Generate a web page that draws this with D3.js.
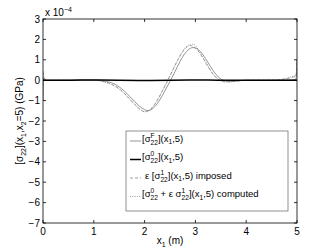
<!DOCTYPE html>
<html>
<head>
<meta charset="utf-8">
<script src="https://cdn.jsdelivr.net/npm/d3@7"></script>
<style>
body { margin: 0; background: #fff; }
text { font-family: "Liberation Sans", Arial, sans-serif; fill: #000; white-space: pre; }
</style>
</head>
<body>
<div id="chart"></div>
<script>
/* data (values in units of 1e-4 GPa) */
var xTicks = [0, 1, 2, 3, 4, 5],
    yTicks = [-7, -6, -5, -4, -3, -2, -1, 0, 1, 2, 3];

// sigma^F_22 (thin grey solid)
var fX = [0, 0.015, 0.04, 0.1, 0.5, 1.0, 1.2, 1.4, 1.5, 1.6, 1.7, 1.8, 1.9, 2.0, 2.05, 2.1, 2.2, 2.3, 2.4, 2.5, 2.6, 2.7, 2.8, 2.9, 2.95, 3.0, 3.1, 3.2, 3.3, 3.4, 3.5, 3.6, 3.7, 3.8, 4.0, 4.5, 4.97, 4.99, 5.0],
    fY = [-1.0, 0.1, 0.02, 0, 0, 0, -0.04, -0.18, -0.33, -0.53, -0.78, -1.03, -1.28, -1.44, -1.49, -1.47, -1.3, -0.96, -0.52, -0.06, 0.43, 0.93, 1.33, 1.56, 1.6, 1.58, 1.4, 1.06, 0.66, 0.3, 0.06, -0.04, -0.06, -0.04, 0, 0, 0.03, 0.3, 1.0];
// sigma^0_22 (thick black)
var zX = [0, 0.5, 1.0, 1.5, 2.0, 2.5, 3.0, 3.5, 4.0, 4.5, 5.0],
    zY = [0, 0, 0.01, 0, -0.01, 0, 0.01, 0, 0, 0, 0];
// eps sigma^1_22 imposed (dashed)
var iX = [0, 0.02, 0.05, 0.1, 0.5, 1.0, 1.2, 1.35, 1.5, 1.6, 1.7, 1.8, 1.9, 1.95, 2.0, 2.05, 2.15, 2.25, 2.35, 2.45, 2.55, 2.65, 2.75, 2.85, 2.9, 2.95, 3.05, 3.15, 3.25, 3.35, 3.45, 3.55, 3.65, 3.8, 4.0, 4.5, 4.98, 5.0],
    iY = [0.4, 0.1, 0.03, 0, 0, 0, -0.07, -0.2, -0.42, -0.64, -0.9, -1.17, -1.4, -1.5, -1.54, -1.52, -1.34, -0.98, -0.52, -0.03, 0.48, 0.98, 1.4, 1.65, 1.7, 1.66, 1.44, 1.08, 0.66, 0.28, 0.04, -0.07, -0.08, -0.05, 0, 0, 0.2, 1.0];
// sigma^0 + eps sigma^1 computed (dotted)
var cX = [0, 0.02, 0.05, 0.1, 0.5, 1.0, 1.2, 1.35, 1.5, 1.6, 1.7, 1.8, 1.9, 1.95, 2.0, 2.05, 2.15, 2.25, 2.35, 2.45, 2.55, 2.65, 2.75, 2.8, 2.85, 2.88, 2.92, 2.95, 3.0, 3.05, 3.15, 3.25, 3.35, 3.45, 3.55, 3.65, 3.8, 4.0, 4.5, 4.98, 5.0],
    cY = [0.45, 0.12, 0.03, 0, 0, 0, -0.08, -0.22, -0.44, -0.66, -0.92, -1.18, -1.41, -1.5, -1.55, -1.53, -1.35, -0.99, -0.53, -0.04, 0.47, 0.97, 1.42, 1.6, 1.7, 1.74, 1.72, 1.76, 1.7, 1.52, 1.12, 0.69, 0.3, 0.05, -0.07, -0.09, -0.05, 0, 0, 0.25, 1.0];

/* layout */
var W = 329, H = 251,
    plot = { left: 43, right: 297, top: 19, bottom: 223 };

var svg = d3.select("#chart").append("svg")
    .attr("width", W)
    .attr("height", H);

var x = d3.scaleLinear().domain([0, 5]).range([plot.left, plot.right]),
    y = d3.scaleLinear().domain([-7, 3]).range([plot.bottom, plot.top]);

// rich text helper: parts = [[text, kind]], kind in n / sub / sup / ss (sup+sub stacked)
function rich(g, x0, y0, parts, size) {
    var cx = x0;
    parts.forEach(function (p) {
        var t;
        if (p[1] === "n") {
            t = g.append("text").attr("x", cx).attr("y", y0).attr("font-size", size).text(p[0]);
            cx += t.node().getComputedTextLength();
        } else if (p[1] === "sub") {
            t = g.append("text").attr("x", cx).attr("y", y0 + size * 0.3).attr("font-size", size * 0.7).text(p[0]);
            cx += t.node().getComputedTextLength();
        } else if (p[1] === "sup") {
            t = g.append("text").attr("x", cx).attr("y", y0 - size * 0.45).attr("font-size", size * 0.7).text(p[0]);
            cx += t.node().getComputedTextLength();
        } else {
            var a = g.append("text").attr("x", cx).attr("y", y0 - size * 0.4).attr("font-size", size * 0.7).text(p[0]),
                b = g.append("text").attr("x", cx).attr("y", y0 + size * 0.35).attr("font-size", size * 0.7).text(p[2]);
            cx += Math.max(a.node().getComputedTextLength(), b.node().getComputedTextLength());
        }
    });
    return cx - x0;
}

/* lines */
var line = d3.line()
    .x(function (d) { return x(d[0]); })
    .y(function (d) { return y(d[1]); })
    .curve(d3.curveMonotoneX);

function pairs(xs, ys) { return xs.map(function (v, i) { return [v, ys[i]]; }); }

svg.append("clipPath").attr("id", "clip")
    .append("rect")
    .attr("x", plot.left).attr("y", plot.top)
    .attr("width", plot.right - plot.left).attr("height", plot.bottom - plot.top);

var lines = svg.append("g").attr("clip-path", "url(#clip)");

var series = [
    { xs: fX, ys: fY, stroke: "#7a7a7a", width: 0.8, dash: null },
    { xs: iX, ys: iY, stroke: "#858585", width: 0.8, dash: "3,2" },
    { xs: cX, ys: cY, stroke: "#858585", width: 0.8, dash: "1,1.3" },
    { xs: zX, ys: zY, stroke: "#000", width: 1.5, dash: null }
];

series.forEach(function (s) {
    lines.append("path")
        .datum(pairs(s.xs, s.ys))
        .attr("d", line)
        .attr("fill", "none")
        .attr("stroke", s.stroke)
        .attr("stroke-width", s.width)
        .attr("stroke-dasharray", s.dash);
});

/* axes box and ticks (inward, all sides) */
var ax = svg.append("g").attr("stroke", "#000").attr("stroke-width", 0.8);
ax.append("rect")
    .attr("x", plot.left).attr("y", plot.top)
    .attr("width", plot.right - plot.left).attr("height", plot.bottom - plot.top)
    .attr("fill", "none");

var tk = 3;
xTicks.forEach(function (v) {
    ax.append("line").attr("x1", x(v)).attr("x2", x(v)).attr("y1", plot.bottom).attr("y2", plot.bottom - tk);
    ax.append("line").attr("x1", x(v)).attr("x2", x(v)).attr("y1", plot.top).attr("y2", plot.top + tk);
});
yTicks.forEach(function (v) {
    ax.append("line").attr("x1", plot.left).attr("x2", plot.left + tk).attr("y1", y(v)).attr("y2", y(v));
    ax.append("line").attr("x1", plot.right).attr("x2", plot.right - tk).attr("y1", y(v)).attr("y2", y(v));
});

svg.append("g").selectAll("text")
    .data(xTicks)
    .join("text")
    .attr("x", function (d) { return x(d); })
    .attr("y", plot.bottom + 12)
    .attr("text-anchor", "middle")
    .attr("font-size", 10)
    .text(function (d) { return d; });

svg.append("g").selectAll("text")
    .data(yTicks)
    .join("text")
    .attr("x", plot.left - 3)
    .attr("y", function (d) { return y(d) + 3.5; })
    .attr("text-anchor", "end")
    .attr("font-size", 10)
    .text(function (d) { return d < 0 ? "\u2212" + (-d) : d; });

// exponent
var ex = svg.append("g");
rich(ex, plot.left + 2, plot.top - 3, [["x 10", "n"], ["\u22124", "sup"]], 10);

// x label
var xl = svg.append("g");
var xw = rich(xl, 0, 0, [["x", "n"], ["1", "sub"], [" (m)", "n"]], 10);
xl.attr("transform", "translate(" + (x(2.5) - xw / 2) + "," + (plot.bottom + 21) + ")");

// y label
var yl = svg.append("g");
var yw = rich(yl, 0, 0, [["[\u03c3", "n"], ["22", "sub"], ["](x", "n"], ["1", "sub"], [",x", "n"], ["2", "sub"], ["=5) (GPa)", "n"]], 10);
yl.attr("transform", "translate(23," + ((plot.top + plot.bottom) / 2 + yw / 2) + ") rotate(-90)");

/* legend */
var lg = svg.append("g");
lg.append("rect")
    .attr("x", 126).attr("y", 131)
    .attr("width", 162).attr("height", 80)
    .attr("fill", "#fff")
    .attr("stroke", "#777")
    .attr("stroke-width", 0.8);

var lgItems = [
    { s: series[0], parts: [["[\u03c3", "n"], ["F", "ss", "22"], ["](x", "n"], ["1", "sub"], [",5)", "n"]] },
    { s: series[3], parts: [["[\u03c3", "n"], ["0", "ss", "22"], ["](x", "n"], ["1", "sub"], [",5)", "n"]] },
    { s: series[1], parts: [["\u03b5 [\u03c3", "n"], ["1", "ss", "22"], ["](x", "n"], ["1", "sub"], [",5) imposed", "n"]] },
    { s: series[2], parts: [["[\u03c3", "n"], ["0", "ss", "22"], [" + \u03b5 \u03c3", "n"], ["1", "ss", "22"], ["](x", "n"], ["1", "sub"], [",5) computed", "n"]] }
];

lgItems.forEach(function (it, i) {
    var yy = 141 + i * 18.5;
    lg.append("line")
        .attr("x1", 130).attr("x2", 141)
        .attr("y1", yy).attr("y2", yy)
        .attr("stroke", it.s.stroke)
        .attr("stroke-width", it.s.width)
        .attr("stroke-dasharray", it.s.dash);
    rich(lg, i === 2 ? 145 : 142, yy + 0.5, it.parts, 9.5);
});
</script>
</body>
</html>
